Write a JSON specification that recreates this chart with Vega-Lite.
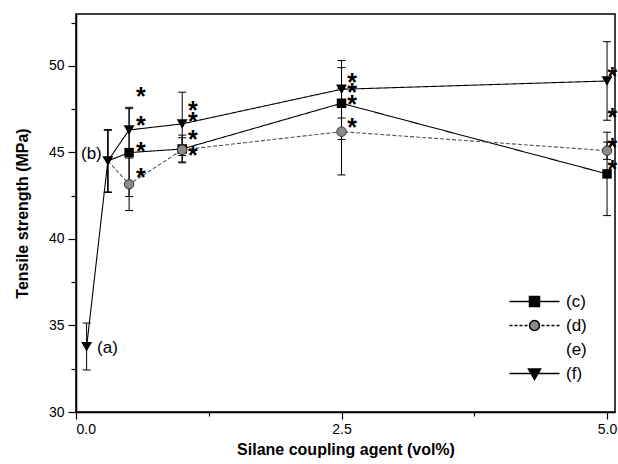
{
  "$schema": "https://vega.github.io/schema/vega-lite/v6.json",
  "width": 539,
  "height": 398,
  "autosize": {"type": "none"},
  "padding": {"left": 76, "top": 14, "right": 3, "bottom": 52},
  "background": "white",
  "config": {
    "font": "Liberation Sans",
    "view": {"stroke": "black", "strokeWidth": 1.5},
    "axis": {
      "grid": false,
      "domainColor": "black",
      "domainWidth": 1.5,
      "tickColor": "black",
      "tickWidth": 1.2,
      "labelColor": "black",
      "labelFont": "Liberation Sans",
      "labelFontSize": 14,
      "titleFont": "Liberation Sans",
      "titleFontSize": 16,
      "titleFontWeight": "bold",
      "titleColor": "black"
    }
  },
  "datasets": {
    "pts": [
      {"series": "f", "x": 0.1, "y": 33.77, "lo": 32.43, "hi": 35.14},
      {"series": "f", "x": 0.3, "y": 44.51, "lo": 42.70, "hi": 46.30},
      {"series": "f", "x": 0.5, "y": 46.30, "lo": 44.99, "hi": 47.61},
      {"series": "f", "x": 1.0, "y": 46.65, "lo": 44.82, "hi": 48.48},
      {"series": "f", "x": 2.5, "y": 48.65, "lo": 46.99, "hi": 50.31},
      {"series": "f", "x": 5.0, "y": 49.13, "lo": 46.86, "hi": 51.40},
      {"series": "c", "x": 0.3, "y": 44.51, "lo": 42.70, "hi": 46.30},
      {"series": "c", "x": 0.5, "y": 44.99, "lo": 42.45, "hi": 47.53},
      {"series": "c", "x": 1.0, "y": 45.20, "lo": 44.40, "hi": 46.00},
      {"series": "c", "x": 2.5, "y": 47.84, "lo": 45.75, "hi": 49.90},
      {"series": "c", "x": 5.0, "y": 43.76, "lo": 41.35, "hi": 46.17},
      {"series": "d", "x": 0.3, "y": 44.51, "lo": 42.70, "hi": 46.30},
      {"series": "d", "x": 0.5, "y": 43.16, "lo": 41.64, "hi": 44.68},
      {"series": "d", "x": 1.0, "y": 45.15, "lo": 44.45, "hi": 45.85},
      {"series": "d", "x": 2.5, "y": 46.20, "lo": 43.70, "hi": 48.70},
      {"series": "d", "x": 5.0, "y": 45.10, "lo": 44.60, "hi": 45.60}
    ],
    "stars": [
      {"x": 0.61, "y": 48.51}, {"x": 0.61, "y": 46.84}, {"x": 0.61, "y": 45.32}, {"x": 0.61, "y": 43.82},
      {"x": 1.10, "y": 47.69}, {"x": 1.10, "y": 47.07}, {"x": 1.10, "y": 46.01}, {"x": 1.10, "y": 45.10},
      {"x": 2.60, "y": 49.29}, {"x": 2.60, "y": 48.71}, {"x": 2.60, "y": 48.03}, {"x": 2.60, "y": 46.69},
      {"x": 5.05, "y": 49.67}, {"x": 5.05, "y": 47.30}, {"x": 5.05, "y": 45.53}, {"x": 5.05, "y": 44.28}
    ],
    "labels": [
      {"x": 0.198, "y": 33.7, "text": "(a)"},
      {"x": 0.047, "y": 44.9, "text": "(b)"}
    ]
  },
  "encoding": {
    "x": {
      "field": "x", "type": "quantitative",
      "scale": {"domain": [0, 5.075], "nice": false, "zero": false},
      "axis": {
        "title": "Silane coupling agent (vol%)",
        "values": [0, 1.25, 2.5, 3.75, 5],
        "labelExpr": "(datum.value == 0 || datum.value == 2.5 || datum.value == 5) ? format(datum.value, '.1f') : ''",
        "tickSize": {"condition": {"test": "datum.value == 1.25 || datum.value == 3.75", "value": 4}, "value": 7},
        "labelPadding": 3,
        "titlePadding": 5
      }
    },
    "y": {
      "field": "y", "type": "quantitative",
      "scale": {"domain": [30, 53], "nice": false, "zero": false},
      "axis": {
        "title": "Tensile strength (MPa)",
        "values": [30, 32.5, 35, 37.5, 40, 42.5, 45, 47.5, 50, 52.5],
        "labelExpr": "datum.value % 5 == 0 ? format(datum.value, 'd') : ''",
        "tickSize": {"condition": {"test": "datum.value % 5 != 0", "value": 5}, "value": 8},
        "labelPadding": 4,
        "titlePadding": 18
      }
    }
  },
  "layer": [
    {
      "data": {"name": "pts"},
      "mark": {"type": "rule", "color": "black", "strokeWidth": 1},
      "encoding": {"y": {"field": "lo", "type": "quantitative"}, "y2": {"field": "hi"}}
    },
    {
      "data": {"name": "pts"},
      "mark": {"type": "point", "shape": "M-1,0H1", "size": 64, "stroke": "black", "strokeWidth": 1, "filled": false, "opacity": 1},
      "encoding": {"y": {"field": "lo", "type": "quantitative"}}
    },
    {
      "data": {"name": "pts"},
      "mark": {"type": "point", "shape": "M-1,0H1", "size": 64, "stroke": "black", "strokeWidth": 1, "filled": false, "opacity": 1},
      "encoding": {"y": {"field": "hi", "type": "quantitative"}}
    },
    {
      "data": {"name": "pts"},
      "mark": {"type": "line", "strokeWidth": 1.1},
      "encoding": {
        "detail": {"field": "series"},
        "color": {"field": "series", "type": "nominal", "scale": {"domain": ["c", "d", "f"], "range": ["black", "#555555", "black"]}, "legend": null},
        "strokeDash": {"field": "series", "type": "nominal", "scale": {"domain": ["c", "d", "f"], "range": [[1, 0], [4, 2], [1, 0]]}, "legend": null}
      }
    },
    {
      "data": {"name": "pts"},
      "transform": [{"filter": "datum.series == 'c' && datum.x > 0.3"}],
      "mark": {"type": "point", "shape": "square", "size": 90, "filled": true, "color": "black", "opacity": 1}
    },
    {
      "data": {"name": "pts"},
      "transform": [{"filter": "datum.series == 'd' && datum.x > 0.3"}],
      "mark": {"type": "point", "shape": "circle", "size": 90, "filled": true, "fill": "#8a8a8a", "stroke": "#333333", "strokeWidth": 1, "opacity": 1}
    },
    {
      "data": {"name": "pts"},
      "transform": [{"filter": "datum.series == 'f'"}],
      "mark": {"type": "point", "shape": "triangle-down", "size": 120, "filled": true, "color": "black", "opacity": 1}
    },
    {
      "data": {"name": "stars"},
      "mark": {"type": "text", "text": "*", "font": "Liberation Sans", "fontSize": 25, "fontWeight": "bold", "baseline": "alphabetic", "dy": 13, "color": "black"}
    },
    {
      "data": {"name": "labels"},
      "mark": {"type": "text", "font": "Liberation Sans", "fontSize": 17, "align": "left", "baseline": "middle", "color": "black"},
      "encoding": {"text": {"field": "text"}}
    },
    {
      "data": {"name": "pts"},
      "transform": [{"filter": "datum.series == 'none'"}],
      "mark": {"type": "point", "filled": true, "stroke": "black", "strokeWidth": 1, "opacity": 1},
      "encoding": {
        "shape": {
          "field": "series", "type": "nominal",
          "scale": {
            "domain": ["c", "d", "e", "f"],
            "range": [
              "M-5,0H5M-1,-1H1V1H-1Z",
              "M-5,0H-4.4M-4,0H-3.4M-3,0H-2.4M-2,0H-1.4M1.4,0H2M2.4,0H3M3.4,0H4M4.4,0H5M1,0A1,1 0 1,1 -1,0A1,1 0 1,1 1,0Z",
              "M0,0",
              "M-5,0H5M-1.2,-0.9H1.2L0,1.2Z"
            ]
          },
          "legend": {
            "title": null, "orient": "none", "legendX": 450, "legendY": 279,
            "symbolSize": 100, "labelOffset": 23, "labelFontSize": 17, "labelFont": "Liberation Sans",
            "labelColor": "black", "rowPadding": 6, "symbolOpacity": 1,
            "labelExpr": "'(' + datum.label + ')'",
            "encode": {"symbols": {"update": {"stroke": {"value": "black"}, "strokeWidth": {"value": 1}, "opacity": {"value": 1}}}}
          }
        },
        "fill": {
          "field": "series", "type": "nominal",
          "scale": {"domain": ["c", "d", "e", "f"], "range": ["black", "#8a8a8a", "white", "black"]},
          "legend": {
            "title": null, "orient": "none", "legendX": 450, "legendY": 279,
            "symbolSize": 100, "labelOffset": 23, "labelFontSize": 17, "labelFont": "Liberation Sans",
            "labelColor": "black", "rowPadding": 6, "symbolOpacity": 1,
            "labelExpr": "'(' + datum.label + ')'",
            "encode": {"symbols": {"update": {"stroke": {"value": "black"}, "strokeWidth": {"value": 1}, "opacity": {"value": 1}}}}
          }
        }
      }
    }
  ]
}
